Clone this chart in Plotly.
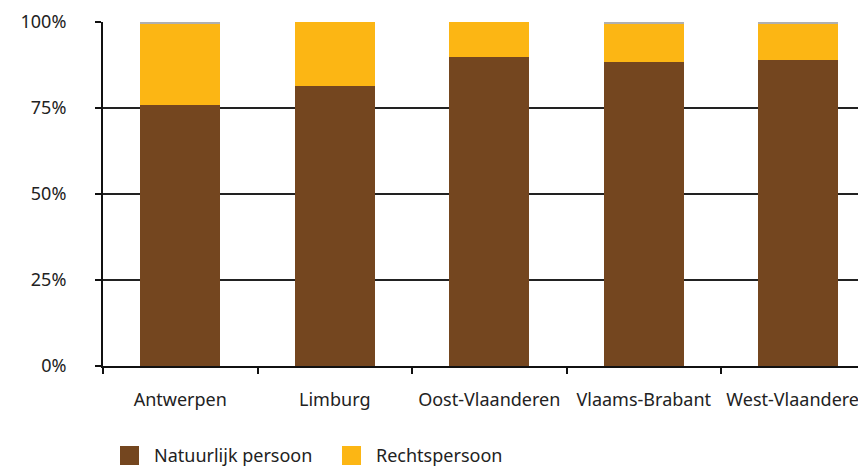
import plotly.graph_objects as go

# Provinces and share of each owner type (%)
provinces = ["Antwerpen", "Limburg", "Oost-Vlaanderen", "Vlaams-Brabant", "West-Vlaanderen"]
natuurlijk = [75.9, 81.4, 89.8, 88.5, 89.0]
rechts = [23.8, 18.6, 10.2, 11.1, 10.6]
onbekend = [0.3, 0.0, 0.0, 0.4, 0.4]

series_names = ["Natuurlijk persoon", "Rechtspersoon"]
colors = ["#74461F", "#FCB614", "#B0B0B0"]
y_ticks = [0, 25, 50, 75, 100]
y_labels = ["0%", "25%", "50%", "75%", "100%"]

FONT = "Noto Sans"
FS = 18
W, H = 858, 466
L, T, B = 103, 22, 100

fig = go.Figure()
for vals, col in zip([natuurlijk, rechts, onbekend], colors):
    fig.add_trace(go.Bar(x=provinces, y=vals, marker=dict(color=col, line=dict(width=0)),
                         showlegend=False, hoverinfo="skip"))

plot_w = W - L
cat_px = 154.5
x_end = -0.5 + plot_w / cat_px

fig.update_layout(
    width=W, height=H,
    margin=dict(l=L, r=0, t=T, b=B, pad=0, autoexpand=False),
    barmode="stack", bargap=0.482,
    plot_bgcolor="white", paper_bgcolor="white",
    font=dict(family=FONT, size=FS, color="#222222"),
    xaxis=dict(range=[-0.5, x_end], showline=True, linecolor="#111111", linewidth=2,
               ticks="outside", tickson="boundaries", ticklen=6, tickwidth=1.5, tickcolor="#111111",
               ticklabelstandoff=16, showgrid=False, zeroline=False, fixedrange=True,
               automargin=False),
    yaxis=dict(range=[0, 100], tickmode="array", tickvals=y_ticks, ticktext=y_labels,
               showline=True, linecolor="#111111", linewidth=2, ticks="outside", ticklen=6,
               tickwidth=1.5, tickcolor="#111111", showgrid=True, gridcolor="#222222",
               gridwidth=2, zeroline=False, ticklabelstandoff=25, fixedrange=True,
               automargin=False),
)

# Legend swatches and labels along the bottom
sw = 19
legend_x = [120, 342]
legend_top = 446
for name, col, lx in zip(series_names, colors, legend_x):
    fig.add_shape(type="rect", xref="paper", yref="paper",
                  x0=(lx - L) / plot_w, x1=(lx + sw - L) / plot_w,
                  y0=(H - B - legend_top) / (H - T - B), y1=(H - B - legend_top - sw) / (H - T - B),
                  fillcolor=col, line=dict(width=0))
    fig.add_annotation(xref="paper", yref="paper", x=(lx + sw + 13 - L) / plot_w,
                       y=(H - B - legend_top - sw / 2) / (H - T - B),
                       text=name, showarrow=False, xanchor="left", yanchor="middle",
                       font=dict(family=FONT, size=FS, color="#222222"))

fig.write_html("out.html", config={"displayModeBar": False})
